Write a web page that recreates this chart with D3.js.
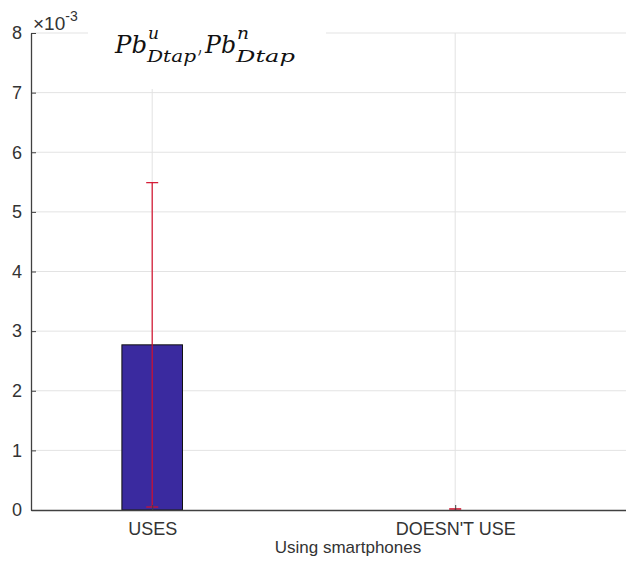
<!DOCTYPE html>
<html><head><meta charset="utf-8">
<script src="https://cdn.jsdelivr.net/npm/d3@7"></script>
<style>body{margin:0;background:#fff}svg{display:block}</style>
</head><body>
<svg id="c" width="626" height="568"></svg>
<script>
const categories = ["USES", "DOESN'T USE"];
const values = [0.00277, 0.0];
const errors = [0.00272, 0.00002];
const yTicks = [0, 0.001, 0.002, 0.003, 0.004, 0.005, 0.006, 0.007, 0.008];
const yTickLabels = ["0","1","2","3","4","5","6","7","8"];
const xLabel = "Using smartphones";

const svg = d3.select("#c");
const W = 626, H = 568;
const x = d3.scaleLinear().domain([0.6, 2.6]).range([31, 637]);
const y = d3.scaleLinear().domain([0, 0.008]).range([510, 33]);
const font = "'Liberation Sans', Arial, Helvetica, sans-serif";
const axisColor = "#404040";

// gridlines
const g = svg.append("g");
g.selectAll("line.hg").data(yTicks.slice(1)).join("line")
  .attr("x1", 31).attr("x2", W).attr("y1", d => y(d)).attr("y2", d => y(d))
  .attr("stroke", "#e3e3e3").attr("stroke-width", 1);
g.selectAll("line.vg").data(categories).join("line")
  .attr("x1", (d,i) => x(i+1)).attr("x2", (d,i) => x(i+1))
  .attr("y1", y(0.008)).attr("y2", y(0))
  .attr("stroke", "#e3e3e3").attr("stroke-width", 1);

// bars
const bw = 0.2;
svg.selectAll("rect.bar").data(values).join("rect")
  .attr("x", (d,i) => x(i+1 - bw/2)).attr("width", x(1+bw/2) - x(1-bw/2))
  .attr("y", d => y(d)).attr("height", d => y(0) - y(d))
  .attr("fill", "#3a2a9f").attr("stroke", "#111").attr("stroke-width", 1);

// error bars
const eb = svg.append("g").attr("stroke", "#d3102c").attr("stroke-width", 1.2);
values.forEach((v, i) => {
  const cx = x(i+1), lo = Math.max(0, v - errors[i]), hi = v + errors[i];
  eb.append("line").attr("x1", cx).attr("x2", cx).attr("y1", y(lo)).attr("y2", y(hi));
  eb.append("line").attr("x1", cx-6).attr("x2", cx+6).attr("y1", y(hi)).attr("y2", y(hi));
  eb.append("line").attr("x1", cx-6).attr("x2", cx+6).attr("y1", y(lo)).attr("y2", y(lo));
});

// axes
const yAxis = d3.axisLeft(y).tickValues(yTicks).tickFormat((d,i) => yTickLabels[i]).tickSizeInner(-5).tickSizeOuter(0).tickPadding(9);
const ya = svg.append("g").attr("transform", "translate(31,0)").call(yAxis);
ya.select(".domain").attr("stroke", axisColor).attr("stroke-width", 1.3);
ya.selectAll(".tick line").attr("stroke", axisColor);
ya.selectAll(".tick text").attr("font-family", font).attr("font-size", 18).attr("fill", "#333");

const xAxis = d3.axisBottom(x).tickValues([1, 2]).tickFormat((d) => categories[d-1]).tickSizeInner(-5).tickSizeOuter(0).tickPadding(12);
const xa = svg.append("g").attr("transform", "translate(0,510)").call(xAxis);
xa.select(".domain").attr("stroke", axisColor).attr("stroke-width", 1.3);
xa.selectAll(".tick line").attr("stroke", axisColor);
xa.selectAll(".tick text").attr("font-family", font).attr("font-size", 18).attr("fill", "#333");

// exponent label
const ex = svg.append("text").attr("x", 33).attr("y", 30).attr("font-family", font).style("font-size", "19px").attr("fill", "#333");
ex.append("tspan").style("font-size", "19px").text("\u00d710");
ex.append("tspan").attr("dy", -9).style("font-size", "14px").text("-3");

// x label
svg.append("text").attr("x", 348).attr("y", 553).attr("text-anchor", "middle")
  .attr("font-family", font).attr("font-size", 17).attr("fill", "#333").text(xLabel);

// title (white background covering grid)
svg.append("rect").attr("x", 88).attr("y", 0).attr("width", 238).attr("height", 89).attr("fill", "#fff");
const tf = "'DejaVu Serif', 'Liberation Serif', serif";
const tg = svg.append("g").attr("font-family", tf).attr("font-style", "italic").attr("fill", "#111");
function piece(txt, px, py, size, len) {
  return tg.append("text").attr("x", px).attr("y", py).attr("font-size", size)
    .attr("textLength", len).attr("lengthAdjust", "spacingAndGlyphs").text(txt);
}
piece("Pb", 115, 53, 25, 32);
piece("u", 148, 39, 16, 11);
piece("Dtap", 147, 62, 16, 49);
piece(",", 198, 53, 25, 4);
piece("Pb", 205, 53, 25, 31);
piece("n", 237, 39, 16, 12);
piece("Dtap", 236, 62, 16, 59);
</script>
</body></html>
